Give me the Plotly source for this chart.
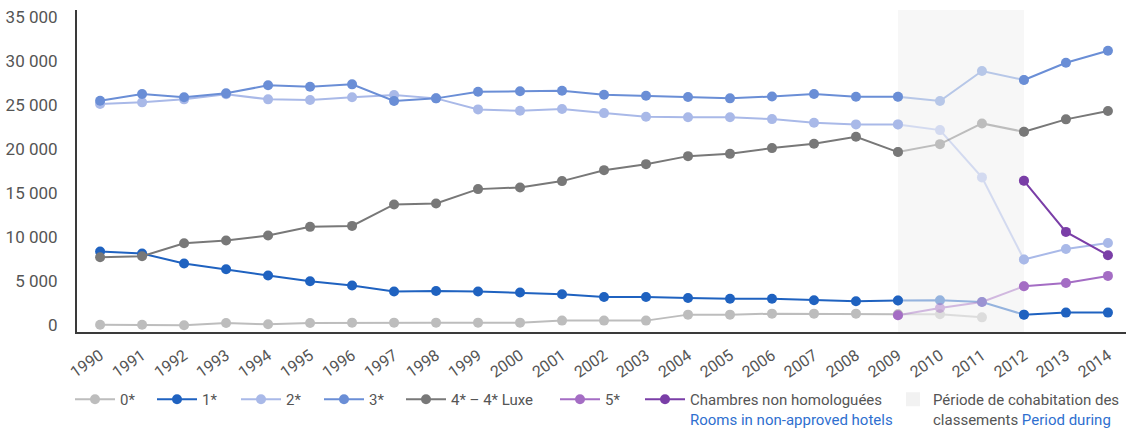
import plotly.graph_objects as go

years = list(range(1990, 2015))

stars_0 = [60, 60, 0, 260, 110, 260, 300, 300, 300, 300, 300, 530, 530, 530,
           1210, 1210, 1320, 1320, 1320, 1250, 1250, 900, None, None, None]
stars_1 = [8370, 8140, 7000, 6360, 5640, 4990, 4510, 3840, 3890, 3830, 3710, 3520,
           3210, 3210, 3100, 3010, 3010, 2840, 2720, 2820, 2840, 2640, 1210, 1440, 1440]
stars_2 = [25090, 25280, 25620, 26200, 25620, 25540, 25850, 26110, 25730, 24480, 24320,
           24520, 24060, 23640, 23580, 23580, 23380, 22960, 22780, 22780, 22130, 16770,
           7460, 8660, 9340]
stars_3 = [25460, 26220, 25850, 26300, 27210, 27050, 27320, 25430, 25730, 26480, 26530,
           26600, 26140, 26030, 25880, 25730, 25940, 26220, 25910, 25910, 25430, 28830,
           27810, 29770, 31130]
stars_4 = [7720, 7830, 9310, 9610, 10180, 11160, 11270, 13700, 13810, 15440, 15630, 16350,
           17590, 18270, 19180, 19440, 20090, 20580, 21370, 19640, 20540, 22890, 21940,
           23350, 24290]
stars_5 = [None] * 19 + [1140, 1960, 2640, 4430, 4800, 5600]
non_approved = [None] * 22 + [16380, 10590, 7950]

period_start, period_end = 2009, 2012

y_tickvals = [0, 5000, 10000, 15000, 20000, 25000, 30000, 35000]
y_ticktext = ["0", "5 000", "10 000", "15 000", "20 000", "25 000", "30 000", "35 000"]

series = [
    ("0*", stars_0, "#bdbdbd"),
    ("1*", stars_1, "#1f62c0"),
    ("2*", stars_2, "#a9b9e8"),
    ("3*", stars_3, "#6a8ed6"),
    ("4* – 4* Luxe", stars_4, "#787878"),
    ("5*", stars_5, "#a46dc4"),
    ("Chambres non homologuées<br><span style='color:#2f6fcf'>Rooms in non-approved hotels</span>",
     non_approved, "#7a3ea7"),
]
period_label = "Période de cohabitation des<br>classements <span style='color:#2f6fcf'>Period during</span>"

# legend item positions (container px, left edge of each legend box)
legend_x_px = [70, 152, 236, 319, 401, 555, 640, 893]
legend_item_w = [40, 40, 40, 40, 40, 40, 40, 30]

fig = go.Figure()

# lighter segments inside the cohabitation period
for name, vals, color in series:
    light = [v if period_start <= y <= period_end else None for y, v in zip(years, vals)]
    if all(v is None for v in light):
        continue
    fig.add_trace(go.Scatter(
        x=years, y=light, mode="lines+markers", showlegend=False, hoverinfo="skip",
        opacity=0.45, line=dict(color=color, width=2), marker=dict(color=color, size=10),
    ))

legend_ids = ["legend"] + [f"legend{i}" for i in range(2, 9)]

for i, (name, vals, color) in enumerate(series):
    main = [v if (y <= period_start or y >= period_end) else None for y, v in zip(years, vals)]
    fig.add_trace(go.Scatter(
        x=years, y=main, mode="lines+markers", name=name, connectgaps=False,
        legend=legend_ids[i],
        line=dict(color=color, width=2), marker=dict(color=color, size=10),
    ))

fig.add_trace(go.Scatter(
    x=[None], y=[None], mode="markers", name=period_label, legend=legend_ids[7],
    marker=dict(symbol="square", size=14, color="#f2f2f2"),
))

fig.add_shape(type="rect", xref="x", yref="paper", x0=period_start, x1=period_end,
              y0=0, y1=1, fillcolor="#f7f7f7", line=dict(width=0), layer="below")

legend_layout = {}
for lid, px, iw in zip(legend_ids, legend_x_px, legend_item_w):
    legend_layout[lid] = dict(
        orientation="h", xref="container", yref="container",
        x=px / 1126, y=1 - 383 / 428, xanchor="left", yanchor="top", valign="top",
        itemwidth=iw, font=dict(size=15, color="#555555"), bgcolor="rgba(0,0,0,0)",
    )

fig.update_layout(
    width=1126, height=428,
    margin=dict(l=77, r=0, t=10, b=96),
    paper_bgcolor="white", plot_bgcolor="white",
    font=dict(family="Roboto", color="#555555"),
    showlegend=True,
    xaxis=dict(range=[1989.45, 2014.43], tickvals=years, ticktext=[str(y) for y in years],
               tickangle=-35, tickfont=dict(size=16, color="#555555"), automargin=False,
               showgrid=False, zeroline=False, showline=True, linecolor="#3a3a3a",
               linewidth=2, ticks="outside", ticklen=6, tickcolor="rgba(0,0,0,0)"),
    yaxis=dict(range=[-760, 35750], tickvals=y_tickvals, ticktext=y_ticktext,
               tickfont=dict(size=17, color="#555555"), automargin=False,
               showgrid=False, zeroline=False, showline=True, linecolor="#3a3a3a",
               linewidth=2, ticks="outside", ticklen=14, tickcolor="rgba(0,0,0,0)"),
    **legend_layout,
)

fig.write_html("out.html", config={"displayModeBar": False},
               post_script="document.body.style.margin='0px';")
